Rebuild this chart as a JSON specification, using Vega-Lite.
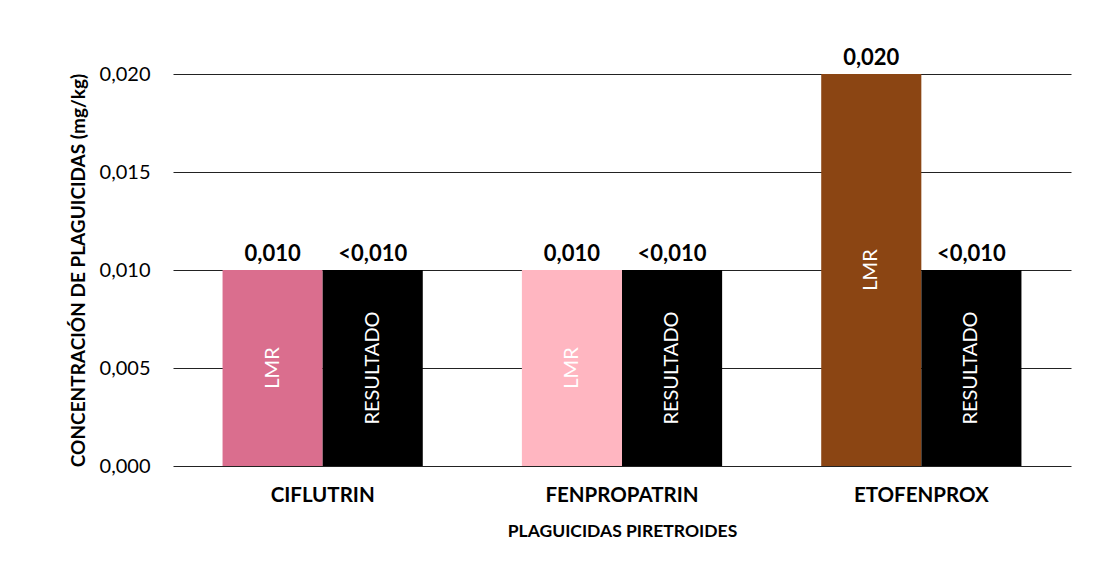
{
  "$schema": "https://vega.github.io/schema/vega-lite/v6.json",
  "width": 898,
  "height": 392,
  "autosize": {"type": "none"},
  "padding": {"left": 173, "top": 74, "right": 23, "bottom": 108},
  "background": "white",
  "config": {
    "view": {"stroke": null},
    "font": "Lato",
    "axis": {"labelFont": "Lato", "titleFont": "Lato"}
  },
  "data": {
    "values": [
      {"plaguicida": "CIFLUTRIN", "tipo": "LMR", "serie": "CIFLUTRIN LMR", "valor": 0.010, "etiqueta": "0,010"},
      {"plaguicida": "CIFLUTRIN", "tipo": "RESULTADO", "serie": "RESULTADO", "valor": 0.010, "etiqueta": "<0,010"},
      {"plaguicida": "FENPROPATRIN", "tipo": "LMR", "serie": "FENPROPATRIN LMR", "valor": 0.010, "etiqueta": "0,010"},
      {"plaguicida": "FENPROPATRIN", "tipo": "RESULTADO", "serie": "RESULTADO", "valor": 0.010, "etiqueta": "<0,010"},
      {"plaguicida": "ETOFENPROX", "tipo": "LMR", "serie": "ETOFENPROX LMR", "valor": 0.020, "etiqueta": "0,020"},
      {"plaguicida": "ETOFENPROX", "tipo": "RESULTADO", "serie": "RESULTADO", "valor": 0.010, "etiqueta": "<0,010"}
    ]
  },
  "transform": [{"calculate": "datum.valor / 2", "as": "medio"}],
  "encoding": {
    "x": {
      "field": "plaguicida",
      "type": "nominal",
      "sort": ["CIFLUTRIN", "FENPROPATRIN", "ETOFENPROX"],
      "scale": {"paddingInner": 0, "paddingOuter": 0},
      "axis": {
        "title": "PLAGUICIDAS PIRETROIDES",
        "titleFontSize": 17.5,
        "titleFontWeight": "bold",
        "titleColor": "#000",
        "titlePadding": 17,
        "labelAngle": 0,
        "labelFontSize": 20.5,
        "labelFontWeight": "bold",
        "labelColor": "#000",
        "labelPadding": 19,
        "ticks": false,
        "domain": false
      }
    },
    "xOffset": {
      "field": "tipo",
      "type": "nominal",
      "sort": ["LMR", "RESULTADO"],
      "scale": {"paddingInner": 0, "paddingOuter": 0.495}
    }
  },
  "layer": [
    {
      "mark": {"type": "bar"},
      "encoding": {
        "y": {
          "field": "valor",
          "type": "quantitative",
          "scale": {"domain": [0, 0.02], "nice": false},
          "axis": {
            "title": "CONCENTRACIÓN DE PLAGUICIDAS (mg/kg)",
            "titleFontSize": 19,
            "titleFontWeight": "bold",
            "titleColor": "#000",
            "titlePadding": 11,
            "values": [0, 0.005, 0.01, 0.015, 0.02],
            "format": ".3f",
            "labelExpr": "replace(datum.label, '.', ',')",
            "labelFontSize": 20,
            "labelColor": "#000",
            "labelFontWeight": "normal",
            "labelPadding": 23,
            "ticks": false,
            "domain": false,
            "grid": true,
            "gridColor": "#222",
            "gridWidth": 1
          }
        },
        "color": {
          "field": "serie",
          "type": "nominal",
          "scale": {
            "domain": ["CIFLUTRIN LMR", "FENPROPATRIN LMR", "ETOFENPROX LMR", "RESULTADO"],
            "range": ["#DA6E8E", "#FFB6C1", "#8B4513", "#000000"]
          },
          "legend": null
        }
      }
    },
    {
      "mark": {"type": "text", "baseline": "bottom", "dy": -4, "fontSize": 22, "fontWeight": "bold", "color": "#000"},
      "encoding": {
        "y": {"field": "valor", "type": "quantitative"},
        "text": {"field": "etiqueta"}
      }
    },
    {
      "mark": {"type": "text", "angle": 270, "baseline": "middle", "align": "center", "fontSize": 20, "color": "#fff"},
      "encoding": {
        "y": {"field": "medio", "type": "quantitative"},
        "text": {"field": "tipo"}
      }
    }
  ]
}
